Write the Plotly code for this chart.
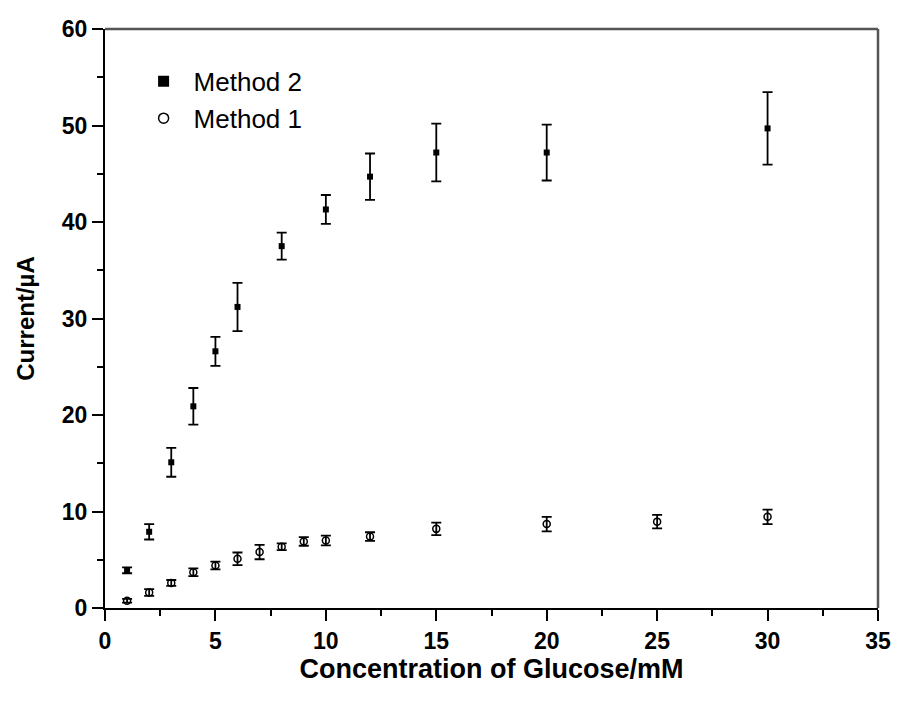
import plotly.graph_objects as go

# Method 2 (filled squares)
conc_m2 = [1, 2, 3, 4, 5, 6, 8, 10, 12, 15, 20, 30]
current_m2 = [3.9, 7.9, 15.1, 20.9, 26.6, 31.2, 37.5, 41.3, 44.7, 47.2, 47.2, 49.7]
err_m2 = [0.3, 0.8, 1.5, 1.9, 1.5, 2.5, 1.4, 1.5, 2.4, 3.0, 2.9, 3.75]

# Method 1 (open circles)
conc_m1 = [1, 2, 3, 4, 5, 6, 7, 8, 9, 10, 12, 15, 20, 25, 30]
current_m1 = [0.75, 1.6, 2.6, 3.7, 4.4, 5.1, 5.8, 6.35, 6.9, 7.0, 7.4, 8.2, 8.7, 8.95, 9.45]
err_m1 = [0.2, 0.35, 0.3, 0.4, 0.4, 0.65, 0.75, 0.35, 0.45, 0.5, 0.45, 0.65, 0.75, 0.7, 0.75]

x_ticks = [0, 5, 10, 15, 20, 25, 30, 35]
y_ticks = [0, 10, 20, 30, 40, 50, 60]

BOLD = "Liberation Sans, Arial, sans-serif"

fig = go.Figure()

fig.add_trace(go.Scatter(
    x=conc_m2, y=current_m2, mode="markers", showlegend=False,
    marker=dict(symbol="square", size=6, color="black"),
    error_y=dict(type="data", array=err_m2, visible=True, color="black",
                 thickness=1.8, width=5),
))
fig.add_trace(go.Scatter(
    x=conc_m1, y=current_m1, mode="markers", showlegend=False,
    marker=dict(symbol="circle-open", size=7, color="black", line=dict(width=1.5)),
    error_y=dict(type="data", array=err_m1, visible=True, color="black",
                 thickness=1.8, width=5),
))
# legend entries
fig.add_trace(go.Scatter(
    x=[None], y=[None], mode="markers", name="Method 2",
    marker=dict(symbol="square", size=11, color="black"),
))
fig.add_trace(go.Scatter(
    x=[None], y=[None], mode="markers", name="Method 1",
    marker=dict(symbol="circle-open", size=10, color="black", line=dict(width=1.5)),
))

axis_common = dict(
    showgrid=False, zeroline=False, showline=True, linecolor="black", linewidth=2,
    ticks="outside", ticklen=11, tickwidth=2, tickcolor="black",
    tickfont=dict(family=BOLD, size=23, color="black", weight="bold"),
)

fig.update_xaxes(
    range=[0, 35], tickvals=x_ticks, ticktext=[str(v) for v in x_ticks],
    minor=dict(ticks="outside", ticklen=6, tickwidth=2, tickcolor="black", dtick=2.5, tick0=0),
    title=dict(text="Concentration of Glucose/mM", standoff=5,
               font=dict(family=BOLD, size=27, color="black", weight="bold")),
    **axis_common,
)
fig.update_yaxes(
    range=[0, 60], tickvals=y_ticks, ticktext=[str(v) for v in y_ticks],
    minor=dict(ticks="outside", ticklen=6, tickwidth=2, tickcolor="black", dtick=5, tick0=0),
    title=dict(text="Current/µA", standoff=20,
               font=dict(family=BOLD, size=24, color="black", weight="bold")),
    **axis_common,
)

# top and right frame lines (grey)
fig.add_shape(type="line", xref="paper", yref="paper", x0=0, x1=1, y0=1, y1=1,
              line=dict(color="#555555", width=2.5))
fig.add_shape(type="line", xref="paper", yref="paper", x0=1, x1=1, y0=0, y1=1,
              line=dict(color="#555555", width=2.5))

fig.update_layout(
    width=903, height=702,
    margin=dict(l=105, r=16, t=29, b=94),
    plot_bgcolor="white", paper_bgcolor="white",
    legend=dict(x=0.037, y=0.95, xanchor="left", yanchor="top",
                bgcolor="rgba(0,0,0,0)",
                font=dict(family="Liberation Sans, Arial, sans-serif", size=26, color="black"),
                itemwidth=50),
)

fig.write_html("out.html")
